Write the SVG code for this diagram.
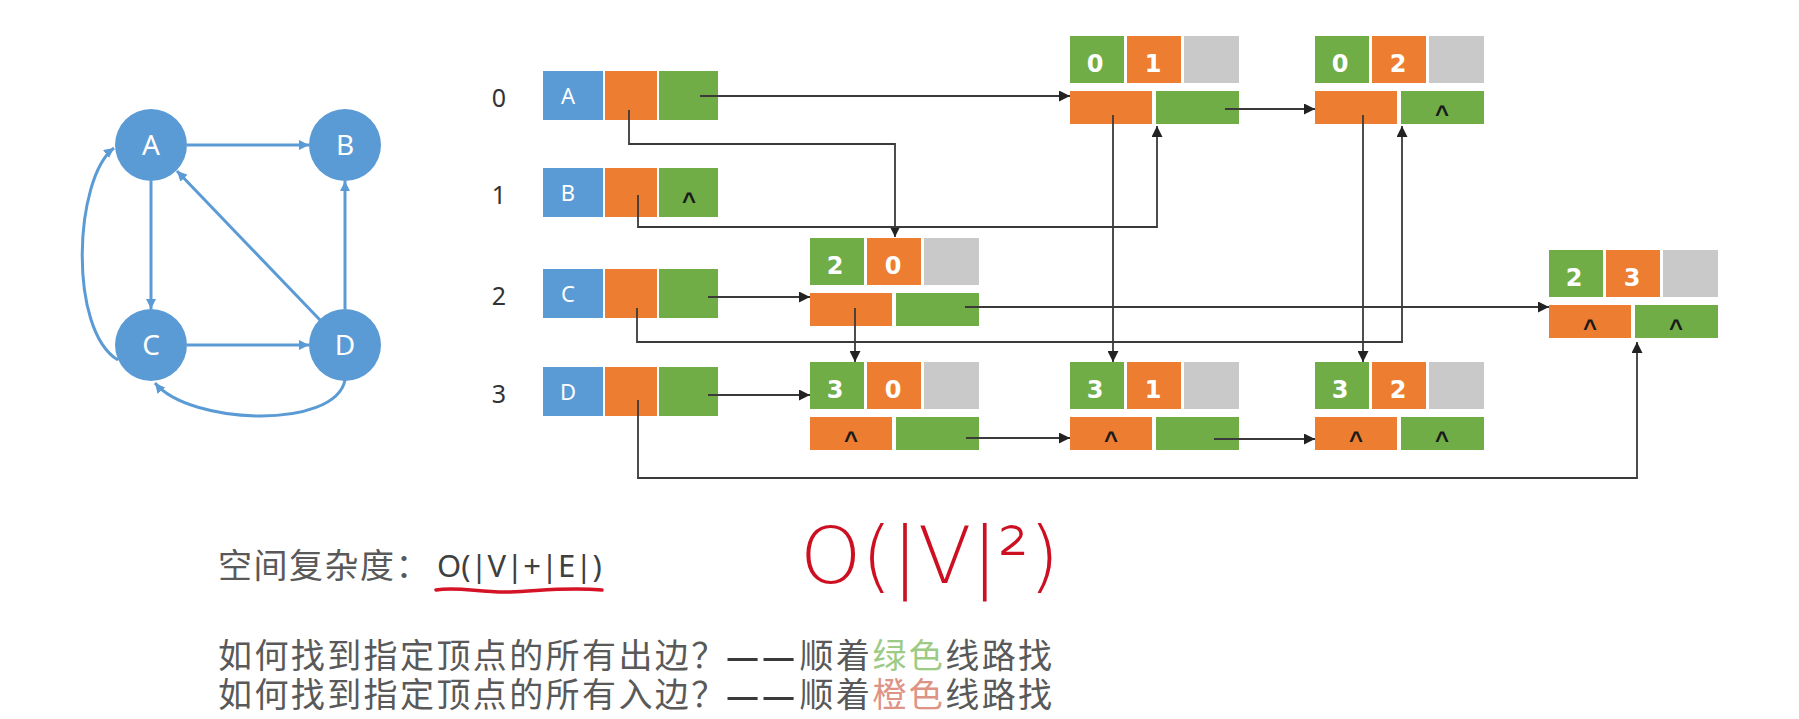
<svg xmlns="http://www.w3.org/2000/svg" width="1799" height="719" viewBox="0 0 1799 719">
<style>
.bl{fill:#5B9BD5}
.or{fill:#ED7D31}
.gr{fill:#70AD47}
.gy{fill:#C9C9C9}
.lbl{font-family:"Noto Sans","DejaVu Sans",sans-serif;font-size:25px;fill:#333;text-anchor:middle}
.vt{font-family:"Noto Sans",sans-serif;font-size:22px;fill:#fff;text-anchor:middle}
.num{font-family:"DejaVu Sans",sans-serif;font-weight:bold;font-size:24px;fill:#fff;text-anchor:middle}
.nil{font-family:"Liberation Sans",sans-serif;font-weight:bold;font-size:24px;fill:#1a1a1a;text-anchor:middle}
.gn{fill:#5B9BD5}
.gt{font-family:"Noto Sans",sans-serif;font-size:28px;fill:#fff;text-anchor:middle}
.ge{fill:none;stroke:#5B9BD5;stroke-width:3}
.cn{fill:none;stroke:#3a3a3a;stroke-width:1.8}
.cjk{font-family:"Noto Sans CJK SC",sans-serif;font-size:34px;fill:#595959;letter-spacing:2.4px}
.dash{font-family:"Liberation Sans",sans-serif;font-weight:bold;font-size:30px;letter-spacing:6px;fill:#3a3a3a}
</style>
<defs>
<marker id="ah" markerUnits="userSpaceOnUse" viewBox="0 0 10 10" refX="10" refY="5" markerWidth="11" markerHeight="11" orient="auto"><path d="M0,0L10,5L0,10z" fill="#222"/></marker>
<marker id="bh" markerUnits="userSpaceOnUse" viewBox="0 0 10 10" refX="10" refY="5" markerWidth="10" markerHeight="10" orient="auto"><path d="M0,0L10,5L0,10z" fill="#5B9BD5"/></marker>
</defs>
<rect x="0" y="0" width="1799" height="719" fill="#fff"/>

<g id="graph-edges">
<path class="ge" marker-end="url(#bh)" d="M187,145H309"/>
<path class="ge" marker-end="url(#bh)" d="M151,181V309"/>
<path class="ge" marker-end="url(#bh)" d="M187,345H309"/>
<path class="ge" marker-end="url(#bh)" d="M345,309V181"/>
<path class="ge" marker-end="url(#bh)" d="M320,320L177,171"/>
<path class="ge" marker-end="url(#bh)" d="M118,360C68,330 74,178 114,148"/>
<path class="ge" marker-end="url(#bh)" d="M345,380C335,430 190,425 155,383"/>
</g>
<g id="gA"><circle class="gn" cx="151" cy="145" r="36"/><text class="gt" x="151" y="155">A</text></g>
<g id="gB"><circle class="gn" cx="345" cy="145" r="36"/><text class="gt" x="345" y="155">B</text></g>
<g id="gC"><circle class="gn" cx="151" cy="345" r="36"/><text class="gt" x="151" y="355">C</text></g>
<g id="gD"><circle class="gn" cx="345" cy="345" r="36"/><text class="gt" x="345" y="355">D</text></g>

<g id="v0" transform="translate(0,71)">
<text class="lbl" x="499" y="36">0</text>
<rect class="bl" x="543" y="0" width="60" height="49"/><rect class="or" x="605" y="0" width="52" height="49"/><rect class="gr" x="659" y="0" width="59" height="49"/>
<text class="vt" x="568" y="33">A</text>
</g>
<g id="v1" transform="translate(0,168)">
<text class="lbl" x="499" y="36">1</text>
<rect class="bl" x="543" y="0" width="60" height="49"/><rect class="or" x="605" y="0" width="52" height="49"/><rect class="gr" x="659" y="0" width="59" height="49"/>
<text class="vt" x="568" y="33">B</text>
<text class="nil" x="689" y="41">^</text>
</g>
<g id="v2" transform="translate(0,269)">
<text class="lbl" x="499" y="36">2</text>
<rect class="bl" x="543" y="0" width="60" height="49"/><rect class="or" x="605" y="0" width="52" height="49"/><rect class="gr" x="659" y="0" width="59" height="49"/>
<text class="vt" x="568" y="33">C</text>
</g>
<g id="v3" transform="translate(0,367)">
<text class="lbl" x="499" y="36">3</text>
<rect class="bl" x="543" y="0" width="60" height="49"/><rect class="or" x="605" y="0" width="52" height="49"/><rect class="gr" x="659" y="0" width="59" height="49"/>
<text class="vt" x="568" y="33">D</text>
</g>

<g id="e01" transform="translate(1070,36)">
<rect class="gr" x="0" y="0" width="54" height="47"/><rect class="or" x="57" y="0" width="54" height="47"/><rect class="gy" x="114" y="0" width="55" height="47"/>
<rect class="or" x="0" y="55" width="82" height="33"/><rect class="gr" x="86" y="55" width="83" height="33"/>
<text class="num" x="25" y="36">0</text><text class="num" x="83" y="36">1</text>
</g>
<g id="e02" transform="translate(1315,36)">
<rect class="gr" x="0" y="0" width="54" height="47"/><rect class="or" x="57" y="0" width="54" height="47"/><rect class="gy" x="114" y="0" width="55" height="47"/>
<rect class="or" x="0" y="55" width="82" height="33"/><rect class="gr" x="86" y="55" width="83" height="33"/>
<text class="num" x="25" y="36">0</text><text class="num" x="83" y="36">2</text>
<text class="nil" x="127" y="86">^</text>
</g>
<g id="e20" transform="translate(810,238)">
<rect class="gr" x="0" y="0" width="54" height="47"/><rect class="or" x="57" y="0" width="54" height="47"/><rect class="gy" x="114" y="0" width="55" height="47"/>
<rect class="or" x="0" y="55" width="82" height="33"/><rect class="gr" x="86" y="55" width="83" height="33"/>
<text class="num" x="25" y="36">2</text><text class="num" x="83" y="36">0</text>
</g>
<g id="e23" transform="translate(1549,250)">
<rect class="gr" x="0" y="0" width="54" height="47"/><rect class="or" x="57" y="0" width="54" height="47"/><rect class="gy" x="114" y="0" width="55" height="47"/>
<rect class="or" x="0" y="55" width="82" height="33"/><rect class="gr" x="86" y="55" width="83" height="33"/>
<text class="num" x="25" y="36">2</text><text class="num" x="83" y="36">3</text>
<text class="nil" x="41" y="86">^</text><text class="nil" x="127" y="86">^</text>
</g>
<g id="e30" transform="translate(810,362)">
<rect class="gr" x="0" y="0" width="54" height="47"/><rect class="or" x="57" y="0" width="54" height="47"/><rect class="gy" x="114" y="0" width="55" height="47"/>
<rect class="or" x="0" y="55" width="82" height="33"/><rect class="gr" x="86" y="55" width="83" height="33"/>
<text class="num" x="25" y="36">3</text><text class="num" x="83" y="36">0</text>
<text class="nil" x="41" y="86">^</text>
</g>
<g id="e31" transform="translate(1070,362)">
<rect class="gr" x="0" y="0" width="54" height="47"/><rect class="or" x="57" y="0" width="54" height="47"/><rect class="gy" x="114" y="0" width="55" height="47"/>
<rect class="or" x="0" y="55" width="82" height="33"/><rect class="gr" x="86" y="55" width="83" height="33"/>
<text class="num" x="25" y="36">3</text><text class="num" x="83" y="36">1</text>
<text class="nil" x="41" y="86">^</text>
</g>
<g id="e32" transform="translate(1315,362)">
<rect class="gr" x="0" y="0" width="54" height="47"/><rect class="or" x="57" y="0" width="54" height="47"/><rect class="gy" x="114" y="0" width="55" height="47"/>
<rect class="or" x="0" y="55" width="82" height="33"/><rect class="gr" x="86" y="55" width="83" height="33"/>
<text class="num" x="25" y="36">3</text><text class="num" x="83" y="36">2</text>
<text class="nil" x="41" y="86">^</text><text class="nil" x="127" y="86">^</text>
</g>

<g id="connectors">
<path class="cn" marker-end="url(#ah)" d="M700,96H1070"/>
<path class="cn" marker-end="url(#ah)" d="M629,110V144H895V237"/>
<path class="cn" marker-end="url(#ah)" d="M638,195V227H1157V126"/>
<path class="cn" marker-end="url(#ah)" d="M708,297H810"/>
<path class="cn" marker-end="url(#ah)" d="M637,308V342H1402V126"/>
<path class="cn" marker-end="url(#ah)" d="M708,395H810"/>
<path class="cn" marker-end="url(#ah)" d="M638,400V478H1637V342"/>
<path class="cn" marker-end="url(#ah)" d="M1225,109H1315"/>
<path class="cn" marker-end="url(#ah)" d="M1113,115V362"/>
<path class="cn" marker-end="url(#ah)" d="M1363,115V362"/>
<path class="cn" marker-end="url(#ah)" d="M965,307H1549"/>
<path class="cn" marker-end="url(#ah)" d="M855,308V362"/>
<path class="cn" marker-end="url(#ah)" d="M966,438H1070"/>
<path class="cn" marker-end="url(#ah)" d="M1214,439H1315"/>
</g>

<g id="notes">
<text class="cjk" x="218" y="578" style="letter-spacing:1.5px">空间复杂度：</text>
<text x="437" y="577" font-family="Noto Sans, sans-serif" font-size="31" fill="#404040">O(|V|+|E|)</text>
<path d="M436,590C458,586 480,593 510,592S565,587 602,590" fill="none" stroke="#d41326" stroke-width="3.5" stroke-linecap="round"/>
<text x="800" y="583" font-family="DejaVu Sans, sans-serif" font-weight="200" font-size="78" fill="#cc1022">O(|V|²)</text>
<text class="cjk" x="218" y="668">如何找到指定顶点的所有出边？<tspan class="dash">—</tspan><tspan class="dash">—</tspan>顺着<tspan fill="#9CCB86">绿色</tspan>线路找</text>
<text class="cjk" x="218" y="707">如何找到指定顶点的所有入边？<tspan class="dash">—</tspan><tspan class="dash">—</tspan>顺着<tspan fill="#DD9485">橙色</tspan>线路找</text>
</g>
</svg>
